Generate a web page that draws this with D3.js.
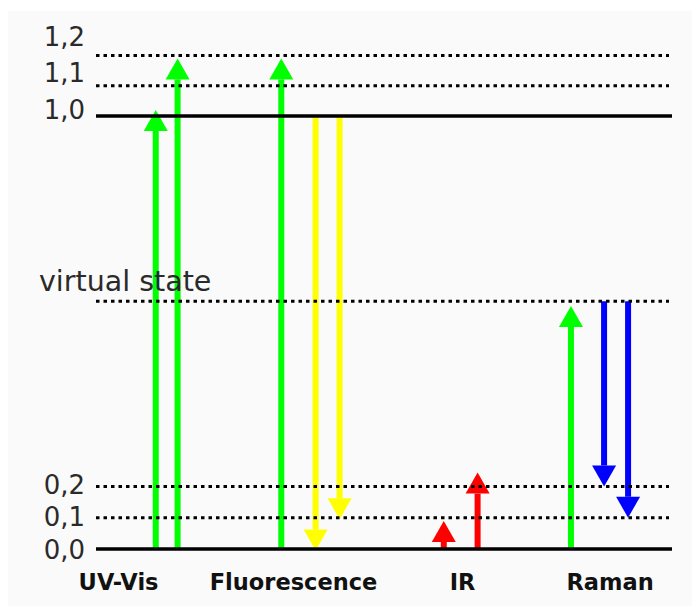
<!DOCTYPE html>
<html>
<head>
<meta charset="utf-8">
<script src="https://cdn.jsdelivr.net/npm/d3@7"></script>
<style>
  html, body { margin: 0; padding: 0; background: #ffffff; }
  svg { display: block; }
</style>
</head>
<body>
<script>
// ---- data ----
const levelValues = [0, 0.1, 0.2, 0.6, 1.0, 1.1, 1.2];
const levelSolid  = [true, false, false, false, true, false, false];

const tickValues = [0, 0.1, 0.2, 1.0, 1.1, 1.2];
const tickLabels = ["0,0", "0,1", "0,2", "1,0", "1,1", "1,2"];

const virtualLabel = "virtual state";
const virtualLevel = 0.6;

const categories = ["UV-Vis", "Fluorescence", "IR", "Raman"];
const categorySlots = [0.94, 8.23, 15.27, 21.42];

// arrows: horizontal slot, start level, end level, colour
const arrowSlots  = [2.49, 3.4, 7.72, 9.15, 10.15, 14.49, 15.9, 19.79, 21.17, 22.17];
const arrowFrom   = [0, 0, 0, 1.0, 1.0, 0, 0, 0, 0.6, 0.6];
const arrowTo     = [1.02, 1.19, 1.19, -0.005, 0.095, 0.09, 0.23, 0.59, 0.2, 0.1];
const arrowColors = ["#00ff00", "#00ff00", "#00ff00", "#ffff00", "#ffff00",
                     "#ff0000", "#ff0000", "#00ff00", "#0000ff", "#0000ff"];

// ---- drawing ----
const W = 692, H = 606;
const svg = d3.select("body").append("svg").attr("width", W).attr("height", H);

svg.append("rect").attr("x", 8).attr("y", 11).attr("width", W - 8).attr("height", H - 11)
  .attr("fill", "#fafafa");

const x = d3.scaleLinear().domain([0, 24]).range([96, 672]);
// broken (piecewise) energy axis
const y = d3.scaleLinear().domain([0, 0.2, 1.0, 1.2]).range([549, 486.5, 116, 55.5]);
// label positions of the schematic tick texts
const yLabel = d3.scaleLinear().domain([0, 0.2, 1.0, 1.2]).range([549, 484, 109, 36]);

// arrows
const headLen = 21, headW = 24, shaftW = 6;
const arrows = arrowSlots.map((s, i) => ({ s, from: arrowFrom[i], to: arrowTo[i], c: arrowColors[i] }));
const ag = svg.append("g");
arrows.forEach(a => {
  const cx = x(a.s), y0 = y(a.from), y1 = y(a.to);
  const dir = y1 < y0 ? -1 : 1; // -1 = up
  const baseY = y1 - dir * headLen;
  ag.append("line").attr("x1", cx).attr("x2", cx).attr("y1", y0).attr("y2", baseY)
    .attr("stroke", a.c).attr("stroke-width", shaftW);
  ag.append("path")
    .attr("d", `M${cx - headW / 2},${baseY}L${cx + headW / 2},${baseY}L${cx},${y1}Z`)
    .attr("fill", a.c);
});

// levels
const lg = svg.append("g");
levelValues.forEach((v, i) => {
  const ln = lg.append("line")
    .attr("x1", x(0)).attr("x2", x(24))
    .attr("y1", y(v)).attr("y2", y(v))
    .attr("stroke", "#000");
  if (levelSolid[i]) {
    ln.attr("stroke-width", 3.5);
  } else {
    ln.attr("stroke-width", 3).attr("stroke-dasharray", "3.5,4").attr("x2", x(24) - 3);
  }
});

// tick labels
svg.append("g").selectAll("text").data(tickValues).join("text")
  .attr("x", 85).attr("y", d => yLabel(d) + 9.5)
  .attr("text-anchor", "end")
  .attr("font-family", "DejaVu Sans").attr("font-size", 26).attr("fill", "#2a2a2a")
  .text((d, i) => tickLabels[i]);

svg.append("text").attr("x", 39).attr("y", y(virtualLevel) - 10)
  .attr("font-family", "DejaVu Sans").attr("font-size", 28.5).attr("fill", "#2a2a2a")
  .text(virtualLabel);

// category labels
svg.append("g").selectAll("text").data(categories).join("text")
  .attr("x", (d, i) => x(categorySlots[i])).attr("y", 590)
  .attr("text-anchor", "middle")
  .attr("font-family", "DejaVu Sans").attr("font-weight", "bold").attr("font-size", 22.5)
  .attr("fill", "#111")
  .text(d => d);
</script>
</body>
</html>
